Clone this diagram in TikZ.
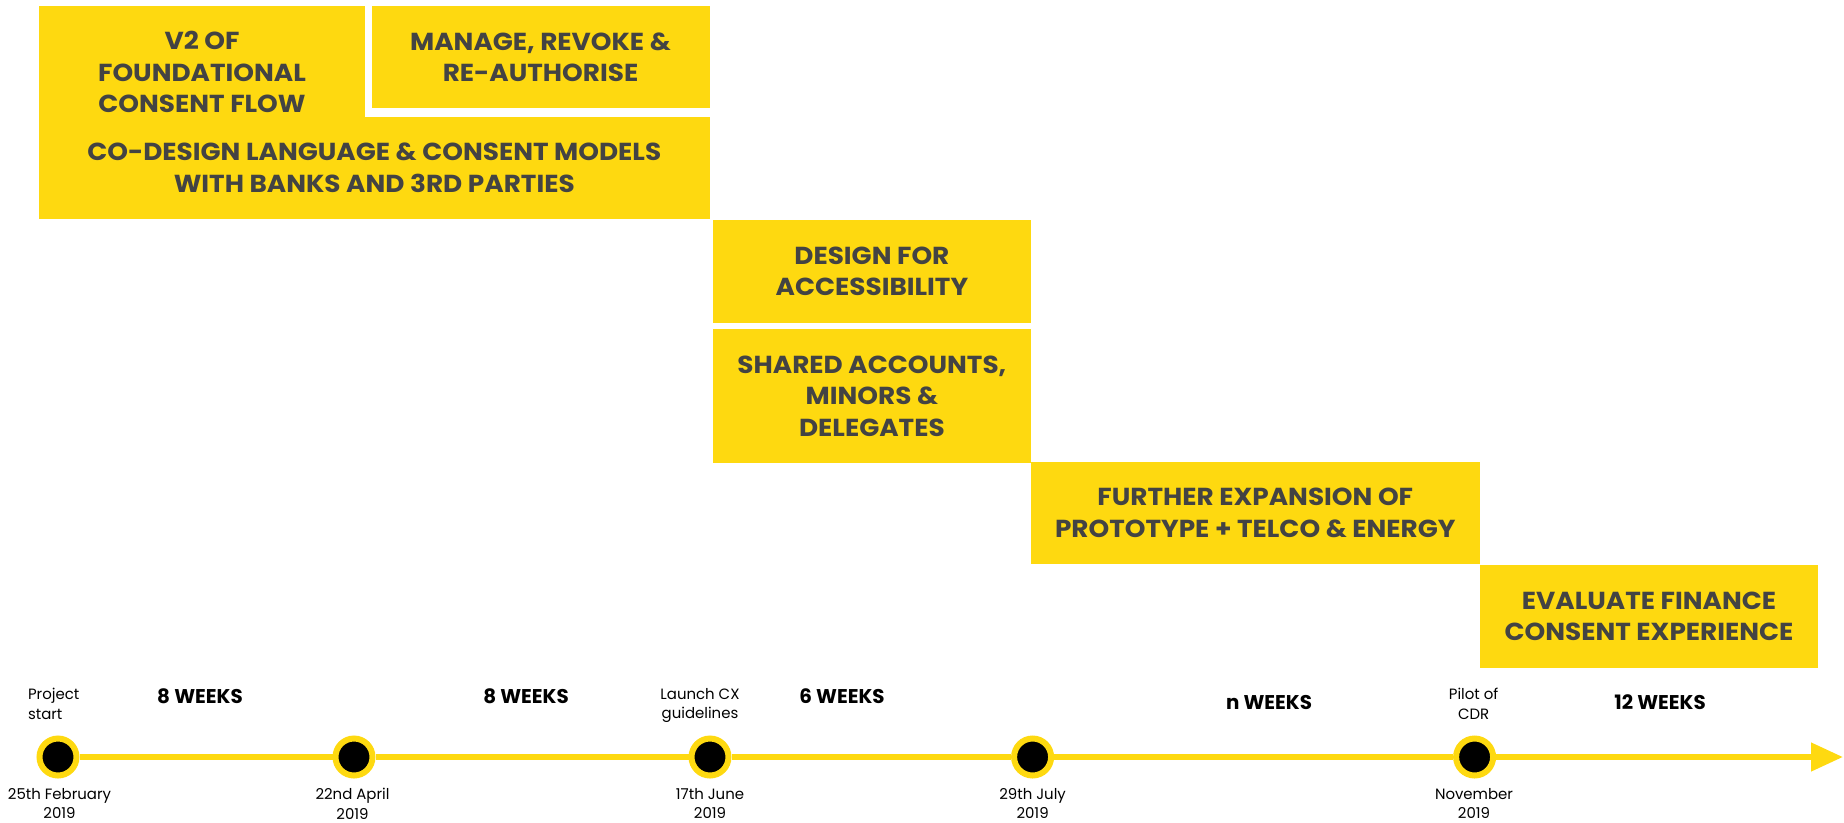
\documentclass[tikz,border=0pt]{standalone}
\usepackage{fontspec}
\setmainfont{Poppins}
\newfontfamily\phasefont{Poppins}[FakeStretch=1.07]
\usepackage[rgb]{xcolor}
\usepackage{tikz}
\usetikzlibrary{arrows.meta}

\definecolor{cxyellow}{RGB}{254,217,16}
\definecolor{cxgrey}{RGB}{67,67,67}

\begin{document}
\begin{tikzpicture}[
        phase/.style={fill=cxyellow, text=cxgrey, inner sep=0pt, align=center,
            font=\phasefont\fontsize{14}{18}\selectfont\bfseries},
        milestone/.style={circle, fill=black, draw=cxyellow, line width=0.12cm,
            minimum size=0.74cm, inner sep=0pt},
        axis/.style={cxyellow, line width=0.12cm},
        event/.style={inner sep=0pt, align=center, anchor=north,
            font=\fontsize{8.5}{11}\selectfont},
        weeks/.style={inner sep=0pt, anchor=base, font=\fontsize{11.3}{13}\selectfont\bfseries}
    ]
                \useasboundingbox (0, 0) rectangle (36.88, -16.44);

                \node[phase, minimum width=6.52cm, minimum height=2.64cm] (v2) at (4.04, -1.44) {V2 OF\\FOUNDATIONAL\\CONSENT FLOW};
                \node[phase, minimum width=6.76cm, minimum height=2.046cm] (manage) at (10.81, -1.143) {MANAGE, REVOKE \&\\RE-AUTHORISE};
                \node[phase, minimum width=13.41cm, minimum height=2.052cm] (codesign) at (7.485, -3.36) {CO-DESIGN LANGUAGE \& CONSENT MODELS\\WITH BANKS AND 3RD PARTIES};

                \node[phase, minimum width=6.364cm, minimum height=2.054cm] (access) at (17.438, -5.427) {DESIGN FOR\\ACCESSIBILITY};
                \node[phase, minimum width=6.364cm, minimum height=2.68cm] (shared) at (17.438, -7.92) {SHARED ACCOUNTS,\\MINORS \&\\DELEGATES};

                \node[phase, minimum width=8.972cm, minimum height=2.04cm] (further) at (25.106, -10.26) {FURTHER EXPANSION OF\\PROTOTYPE + TELCO \& ENERGY};
                \node[phase, minimum width=6.76cm, minimum height=2.06cm] (evaluate) at (32.98, -12.33) {EVALUATE FINANCE\\CONSENT EXPERIENCE};

                \node[milestone] (m1) at (1.16, -15.14) {};
                \node[milestone] (m2) at (7.08, -15.14) {};
                \node[milestone] (m3) at (14.2, -15.14) {};
                \node[milestone] (m4) at (20.652, -15.14) {};
                \node[milestone] (m5) at (29.492, -15.14) {};
                \coordinate (tip) at (36.86, -15.14);

                \draw[axis, -{Triangle[length=0.64cm, width=0.55cm]}] (m1) -- (m2) -- (m3) -- (m4) -- (m5) -- (tip);

                \node[event, anchor=north west, align=left] (start) at (0.554, -13.76) {Project\\start};
                \node[event] (launch) at (14.0, -13.76) {Launch CX\\guidelines};
                \node[event] (pilot) at (29.472, -13.76) {Pilot of\\CDR};

                \node[weeks] (w1) at (4.0, -14.06) {8 WEEKS};
                \node[weeks] (w2) at (10.52, -14.06) {8 WEEKS};
                \node[weeks] (w3) at (16.84, -14.06) {6 WEEKS};
                \node[weeks] (w4) at (25.38, -14.18) {n WEEKS};
                \node[weeks] (w5) at (33.2, -14.18) {12 WEEKS};

                \node[event] (d1) at (1.19, -15.76) {25th February\\2019};
                \node[event] (d2) at (7.05, -15.76) {22nd April\\2019};
                \node[event] (d3) at (14.2, -15.76) {17th June\\2019};
                \node[event] (d4) at (20.652, -15.76) {29th July\\2019};
                \node[event] (d5) at (29.48, -15.76) {November\\2019};

\end{tikzpicture}
\end{document}
